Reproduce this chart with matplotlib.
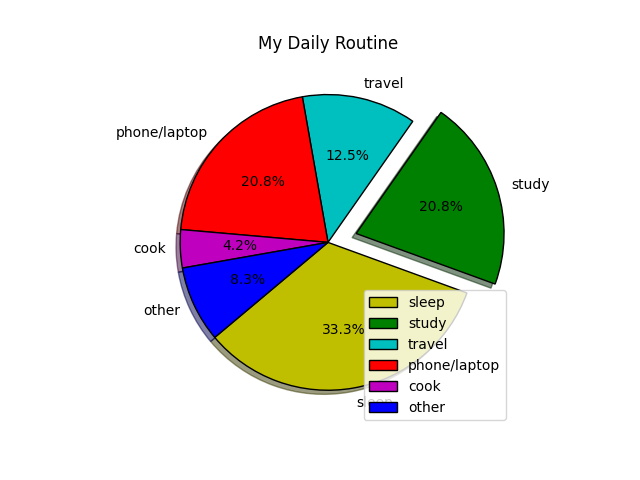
import matplotlib
matplotlib.use("Agg")
import matplotlib.pyplot as plt

activities = ['sleep', 'study', 'travel', 'phone/laptop', 'cook', 'other']
hours = [8, 5, 3, 5, 1, 2]
colors = ['y', 'g', 'c', 'r', 'm', 'b']
explode = [0, 0.2, 0, 0, 0, 0]

fig = plt.figure(figsize=(6.4, 4.8), dpi=100)
plt.pie(hours, labels=activities, colors=colors, startangle=220, shadow=True,
        explode=explode, autopct='%1.1f%%', wedgeprops={'edgecolor': 'black'})
plt.title('My Daily Routine')
plt.legend(loc='lower right')
plt.savefig('out.png')
